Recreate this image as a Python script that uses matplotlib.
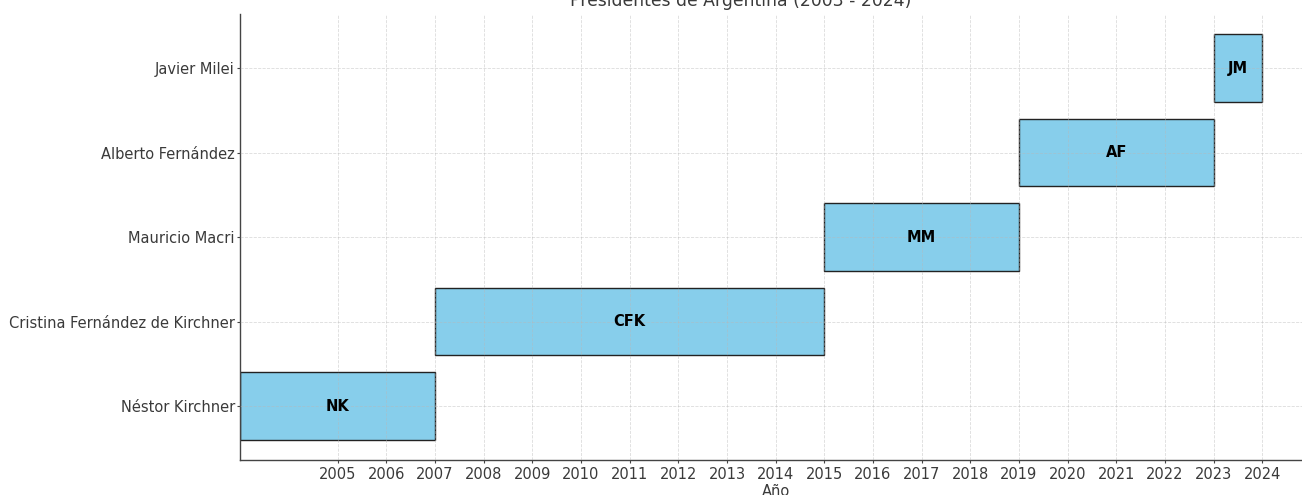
import matplotlib
matplotlib.use("Agg")
import matplotlib.pyplot as plt

plt.rcParams["font.family"] = ["DejaVu Sans"]

presidents = ["Néstor Kirchner", "Cristina Fernández de Kirchner", "Mauricio Macri",
              "Alberto Fernández", "Javier Milei"]
initials = ["NK", "CFK", "MM", "AF", "JM"]
start_years = [2003, 2007, 2015, 2019, 2023]
end_years = [2007, 2015, 2019, 2023, 2024]
year_ticks = list(range(2005, 2025))
title = "Presidentes de Argentina (2003 - 2024)"

TXT = "#3a3a3a"
fig = plt.figure(figsize=(13.02, 4.95), dpi=100)
W, H = 1302, 495
ax = fig.add_axes([240.4 / W, 1 - 460.3 / H, (1310.9 - 240.4) / W, (460.3 - 14) / H])

widths = [e - s for s, e in zip(start_years, end_years)]
ax.barh(range(len(presidents)), widths, left=start_years, height=0.8,
        color="#87CEEB", edgecolor="#222222", linewidth=1.0, zorder=1)
for i, (s, w, lab) in enumerate(zip(start_years, widths, initials)):
    ax.text(s + w / 2, i, lab, ha="center", va="center", fontsize=10.5,
            fontweight="bold", color="black", zorder=3)

ax.set_yticks(range(len(presidents)))
ax.set_yticklabels(presidents)
ax.set_xticks(year_ticks)
ax.set_xlim(2003, 2025)
ax.set_xlabel("Año", color=TXT, fontsize=10.5, labelpad=1.5)
ax.tick_params(colors="#444444", labelcolor=TXT, labelsize=10.5, length=2.5)
ax.tick_params(axis="y", pad=1.5)
ax.tick_params(axis="x", pad=2)
ax.grid(True, linestyle="--", color="#b8b8b8", alpha=0.5, linewidth=0.6, zorder=2)
ax.set_axisbelow(False)
for sp in ["top", "right"]:
    ax.spines[sp].set_visible(False)
for sp in ["left", "bottom"]:
    ax.spines[sp].set_color("#444444")
    ax.spines[sp].set_linewidth(1.0)

fig.text(741 / W, 1 - 6 / H, title, ha="center", va="baseline", fontsize=12.4, color=TXT)

fig.savefig("out.png", dpi=100)
